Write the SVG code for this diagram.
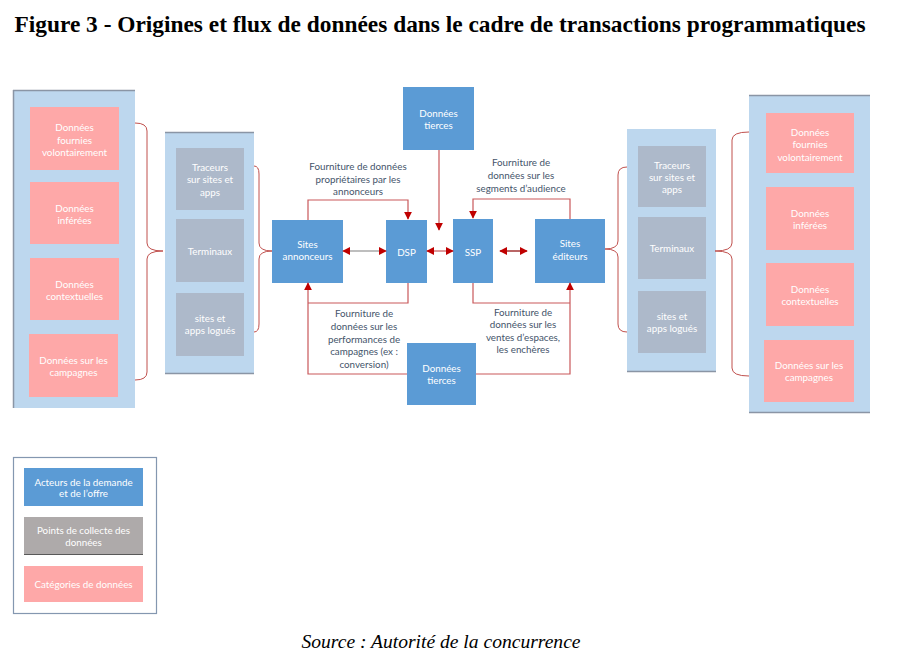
<svg xmlns="http://www.w3.org/2000/svg" width="904" height="671" viewBox="0 0 904 671">
<style>
.panel{fill:#bdd7ee}
.pink{fill:#fea8a8}
.grey{fill:#adb9ca}
.blue{fill:#5b9bd5}
.t{font-family:Lato,"Noto Sans",sans-serif;font-size:9.8px;fill:#ffffff;text-anchor:middle}
.lbl{font-family:Lato,"Noto Sans",sans-serif;font-size:9.8px;fill:#44546a;text-anchor:middle}
.c{fill:none;stroke:#c9585a;stroke-width:1.2}
.br{fill:none;stroke:#c0504d;stroke-width:1}
.edge{stroke:#8a95a5;stroke-width:1.5}
</style>
<defs>
<marker id="ah" viewBox="0 0 10 10" refX="9" refY="5" markerWidth="8" markerHeight="8" markerUnits="userSpaceOnUse" orient="auto-start-reverse">
<path d="M0,0 L10,5 L0,10 z" fill="#c00000"/>
</marker>
</defs>
<rect width="904" height="671" fill="#ffffff"/>
<text x="440" y="32" text-anchor="middle" font-family="'Liberation Serif',serif" font-weight="bold" font-size="24" textLength="851" lengthAdjust="spacingAndGlyphs">Figure 3 - Origines et flux de données dans le cadre de transactions programmatiques</text>

<g id="left-categories">
<rect class="panel" x="13" y="90" width="122" height="318"/>
<line class="edge" x1="13.5" y1="90" x2="13.5" y2="408"/>
<line class="edge" x1="13" y1="90.5" x2="135" y2="90.5"/>
<rect class="pink" x="30" y="107" width="89" height="63"/>
<text class="t" x="74.5" y="131">Données</text><text class="t" x="74.5" y="143.5">fournies</text><text class="t" x="74.5" y="156">volontairement</text>
<rect class="pink" x="30" y="182" width="89" height="62"/>
<text class="t" x="74.5" y="211.5">Données</text><text class="t" x="74.5" y="224">inférées</text>
<rect class="pink" x="30" y="258" width="89" height="62"/>
<text class="t" x="74.5" y="287.5">Données</text><text class="t" x="74.5" y="300">contextuelles</text>
<rect class="pink" x="29" y="334" width="89" height="63"/>
<text class="t" x="73.5" y="363.5">Données sur les</text><text class="t" x="73.5" y="376">campagnes</text>
</g>

<g id="left-collecte">
<rect class="panel" x="165" y="132" width="89" height="242"/>
<line class="edge" x1="165" y1="132.5" x2="254" y2="132.5"/>
<line class="edge" x1="165" y1="373.5" x2="254" y2="373.5"/>
<rect class="grey" x="176" y="148" width="68" height="62"/>
<text class="t" x="210" y="170.5">Traceurs</text><text class="t" x="210" y="183">sur sites et</text><text class="t" x="210" y="195.5">apps</text>
<rect class="grey" x="176" y="219" width="68" height="63"/>
<text class="t" x="210" y="254.5">Terminaux</text>
<rect class="grey" x="176" y="293" width="68" height="63"/>
<text class="t" x="210" y="321.5">sites et</text><text class="t" x="210" y="334">apps logués</text>
</g>

<g id="right-collecte">
<rect class="panel" x="627" y="129" width="89" height="243"/>
<line class="edge" x1="627" y1="371.5" x2="716" y2="371.5"/>
<rect class="grey" x="638" y="146" width="68" height="61"/>
<text class="t" x="672" y="168.5">Traceurs</text><text class="t" x="672" y="181">sur sites et</text><text class="t" x="672" y="193">apps</text>
<rect class="grey" x="638" y="217" width="68" height="62"/>
<text class="t" x="672" y="251.5">Terminaux</text>
<rect class="grey" x="638" y="291" width="68" height="62"/>
<text class="t" x="672" y="319.5">sites et</text><text class="t" x="672" y="331.5">apps logués</text>
</g>

<g id="right-categories">
<rect class="panel" x="749" y="95" width="121" height="318"/>
<line class="edge" x1="749" y1="95.5" x2="870" y2="95.5"/>
<line class="edge" x1="749" y1="412.5" x2="870" y2="412.5"/>
<rect class="pink" x="766" y="113" width="88" height="60"/>
<text class="t" x="810" y="135.5">Données</text><text class="t" x="810" y="148">fournies</text><text class="t" x="810" y="160.5">volontairement</text>
<rect class="pink" x="766" y="187" width="88" height="63"/>
<text class="t" x="810" y="216.5">Données</text><text class="t" x="810" y="228.5">inférées</text>
<rect class="pink" x="766" y="263" width="88" height="63"/>
<text class="t" x="810" y="292.5">Données</text><text class="t" x="810" y="304.5">contextuelles</text>
<rect class="pink" x="764" y="340" width="90" height="62"/>
<text class="t" x="809" y="368.5">Données sur les</text><text class="t" x="809" y="380.5">campagnes</text>
</g>

<g id="tierces-top">
<rect class="blue" x="403" y="87" width="71" height="63"/>
<text class="t" x="438.5" y="116.5">Données</text><text class="t" x="438.5" y="128.5">tierces</text>
</g>
<g id="sites-annonceurs">
<rect class="blue" x="272" y="220" width="71" height="63"/>
<text class="t" x="307.5" y="247.5">Sites</text><text class="t" x="307.5" y="260">annonceurs</text>
</g>
<g id="dsp">
<rect class="blue" x="386" y="220" width="41" height="63"/>
<text class="t" x="406.5" y="255.5">DSP</text>
</g>
<g id="ssp">
<rect class="blue" x="453" y="219" width="40" height="64"/>
<text class="t" x="473" y="255.5">SSP</text>
</g>
<g id="sites-editeurs">
<rect class="blue" x="535" y="219" width="70" height="64"/>
<text class="t" x="570" y="246.5">Sites</text><text class="t" x="570" y="259.5">éditeurs</text>
</g>
<g id="tierces-bottom">
<rect class="blue" x="407" y="343" width="69" height="62"/>
<text class="t" x="441.5" y="371.5">Données</text><text class="t" x="441.5" y="383.5">tierces</text>
</g>

<g id="connectors">
<path class="br" d="M135,123 Q147,123 147,131 L147,243 Q147,251 163,251 Q147,251 147,259 L147,372 Q147,380 135,380"/>
<path class="br" d="M254,166 Q259,166 259,174 L259,243 Q259,251 272,251 Q259,251 259,259 L259,324 Q259,332 254,332"/>
<path class="br" d="M627,167 Q618,167 618,175 L618,241 Q618,249 605,249 Q618,249 618,257 L618,324 Q618,332 627,332"/>
<path class="br" d="M749,132 Q732,132 732,140 L732,243 Q732,251 715,251 Q732,251 732,259 L732,368 Q732,376 749,376"/>
<path class="c" d="M439,150 L439,230" marker-end="url(#ah)"/>
<path class="c" d="M308,220 L308,200 L408,200 L408,219" marker-end="url(#ah)"/>
<path class="c" d="M570,219 L570,199 L473,199 L473,218" marker-end="url(#ah)"/>
<path fill="none" stroke="#7f7f7f" stroke-width="1.2" d="M343,251 L386,251" marker-start="url(#ah)" marker-end="url(#ah)"/>
<path class="c" d="M427,251 L453,251" marker-start="url(#ah)" marker-end="url(#ah)"/>
<path fill="none" stroke="#8b0000" stroke-width="1.2" d="M500,251 L527,251" marker-start="url(#ah)" marker-end="url(#ah)"/>
<path class="c" d="M408,283 L408,303 L308,303"/>
<path class="c" d="M407,374 L308,374 L308,283" marker-end="url(#ah)"/>
<path class="c" d="M473,283 L473,303 L570,303"/>
<path class="c" d="M476,374 L570,374 L570,283" marker-end="url(#ah)"/>
<text class="lbl" x="358" y="170">Fourniture de données</text>
<text class="lbl" x="358" y="182.5">propriétaires par les</text>
<text class="lbl" x="358" y="195">annonceurs</text>
<text class="lbl" x="521" y="166">Fourniture de</text>
<text class="lbl" x="521" y="179">données sur les</text>
<text class="lbl" x="521" y="191.5">segments d’audience</text>
<text class="lbl" x="364" y="317">Fourniture de</text>
<text class="lbl" x="364" y="330">données sur les</text>
<text class="lbl" x="364" y="342.5">performances de</text>
<text class="lbl" x="364" y="355">campagnes (ex :</text>
<text class="lbl" x="364" y="368">conversion)</text>
<text class="lbl" x="523" y="316">Fourniture de</text>
<text class="lbl" x="523" y="328">données sur les</text>
<text class="lbl" x="523" y="340.5">ventes d’espaces,</text>
<text class="lbl" x="523" y="353">les enchères</text>
</g>

<g id="legend">
<rect x="13.5" y="457.5" width="143" height="156" fill="#ffffff" stroke="#8497b0" stroke-width="1.2"/>
<rect class="blue" x="24" y="468" width="119" height="38"/>
<text class="t" x="83.5" y="485.5">Acteurs de la demande</text><text class="t" x="83.5" y="497">et de l’offre</text>
<rect x="24" y="517" width="119" height="38" fill="#aeaaaa"/>
<line x1="24" y1="554.5" x2="143" y2="554.5" stroke="#595959" stroke-width="1.2"/>
<text class="t" x="83.5" y="533.5">Points de collecte des</text><text class="t" x="83.5" y="546">données</text>
<rect class="pink" x="24" y="566" width="119" height="36"/>
<text class="t" x="83.5" y="587.5">Catégories de données</text>
</g>

<text x="441" y="648" text-anchor="middle" font-family="'Liberation Serif',serif" font-style="italic" font-size="18" textLength="279" lengthAdjust="spacingAndGlyphs">Source : Autorité de la concurrence</text>
</svg>
